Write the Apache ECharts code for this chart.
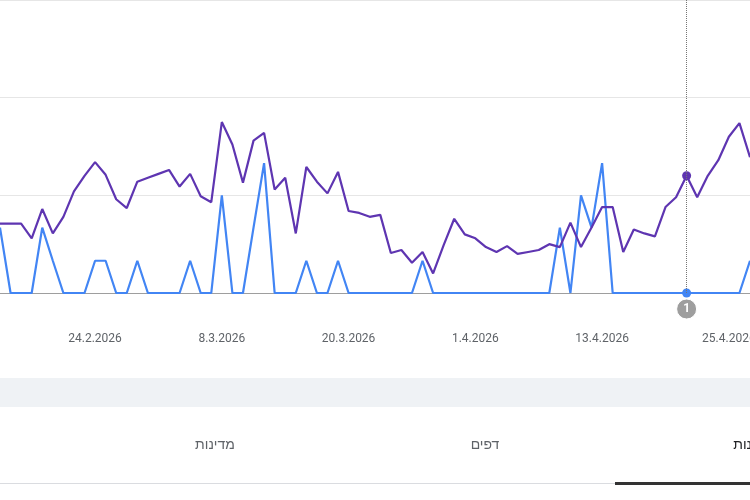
<!DOCTYPE html>
<html><head><meta charset="utf-8">
<script src="https://cdn.jsdelivr.net/npm/echarts@6/dist/echarts.min.js"></script>
<style>html,body{margin:0;padding:0;background:#fff}#chart{width:750px;height:500px}</style>
</head><body><div id="chart"></div>
<script>
var myChart = echarts.init(document.getElementById("chart"));
// dates 15.2.2026 - 27.4.2026
var dates = [];
var d = new Date(2026, 1, 15);
for (var i = 0; i < 72; i++) {
    dates.push(d.getDate() + "." + (d.getMonth() + 1) + "." + d.getFullYear());
    d.setDate(d.getDate() + 1);
}
var impressions = [
    0.71, 0.71, 0.71, 0.56, 0.86, 0.61, 0.78, 1.04, 1.20, 1.34, 1.21, 0.96, 0.87, 1.14, 1.18, 1.22,
    1.26, 1.09, 1.22, 0.99, 0.93, 1.75, 1.52, 1.13, 1.56, 1.64, 1.06, 1.18, 0.61, 1.29, 1.14, 1.02,
    1.24, 0.84, 0.82, 0.78, 0.80, 0.41, 0.44, 0.31, 0.42, 0.20, 0.49, 0.76, 0.60, 0.56, 0.47, 0.42,
    0.48, 0.40, 0.42, 0.44, 0.50, 0.47, 0.72, 0.47, 0.67, 0.88, 0.88, 0.42, 0.65, 0.61, 0.58, 0.88,
    0.98, 1.20, 0.98, 1.20, 1.36, 1.60, 1.74, 1.39
];
var clicks = [
    0.67, 0, 0, 0, 0.67, 0.33, 0, 0, 0, 0.33, 0.33, 0, 0, 0.33, 0, 0,
    0, 0, 0.33, 0, 0, 1, 0, 0, 0.67, 1.33, 0, 0, 0, 0.33, 0, 0,
    0.33, 0, 0, 0, 0, 0, 0, 0, 0.33, 0, 0, 0, 0, 0, 0, 0,
    0, 0, 0, 0, 0, 0.67, 0, 1, 0.67, 1.33, 0, 0, 0, 0, 0, 0,
    0, 0, 0, 0, 0, 0, 0, 0.33
];
var hover = 65;
function mark(arr, color) {
    return arr.map(function (v, i) {
        if (i !== hover) return v;
        return { value: v, symbol: "circle", symbolSize: 9, itemStyle: { color: color } };
    });
}
var option = {
    animation: false,
    grid: { left: 0, right: 0, top: 0, height: 293, containLabel: false, outerBoundsMode: "none" },
    xAxis: {
        type: "category",
        data: dates,
        boundaryGap: false,
        axisTick: { show: false },
        axisLine: { lineStyle: { color: "#9e9e9e" } },
        axisLabel: {
            color: "#5f6368",
            fontSize: 12,
            fontFamily: "Roboto",
            margin: 40,
            hideOverlap: false,
            interval: function (i) { return (i - 9) % 12 === 0; }
        }
    },
    yAxis: {
        type: "value",
        min: 0,
        max: 3,
        interval: 1,
        axisLabel: { show: false },
        splitLine: { lineStyle: { color: "#e6e6e6" } }
    },
    series: [
        {
            name: "חשיפות",
            type: "line",
            data: mark(impressions, "#5e35b1"),
            showSymbol: true,
            symbol: "none",
            lineStyle: { color: "#5e35b1", width: 2.2 },
            itemStyle: { color: "#5e35b1" },
            z: 3
        },
        {
            name: "קליקים",
            type: "line",
            data: mark(clicks, "#4285f4"),
            showSymbol: true,
            symbol: "none",
            lineStyle: { color: "#4285f4", width: 2.2 },
            itemStyle: { color: "#4285f4" },
            z: 2,
            markLine: {
                silent: true,
                symbol: "none",
                label: { show: false },
                lineStyle: { color: "#757575", type: "dotted", width: 1 },
                data: [{ xAxis: hover }]
            },
            markPoint: {
                silent: true,
                data: [{
                    coord: [hover, 0],
                    symbol: "circle",
                    symbolSize: 20,
                    symbolOffset: [0, 16],
                    itemStyle: { color: "#9e9e9e", borderColor: "#fff", borderWidth: 1 },
                    label: { show: true, formatter: "1", color: "#fff", fontSize: 12, fontWeight: "bold", fontFamily: "Roboto" }
                }]
            }
        }
    ],
    graphic: [
        { type: "rect", shape: { x: 0, y: 378, width: 750, height: 29 }, style: { fill: "#eff2f5" } },
        { type: "rect", shape: { x: 0, y: 483, width: 750, height: 1 }, style: { fill: "#dadce0" } },
        { type: "rect", shape: { x: 615, y: 482, width: 135, height: 3 }, style: { fill: "#333333" } },
        { type: "text", x: 215, y: 445, style: { text: "מדינות", fill: "#5f6368", font: "14px 'Noto Sans', sans-serif", align: "center", verticalAlign: "middle" } },
        { type: "text", x: 485, y: 445, style: { text: "דפים", fill: "#5f6368", font: "14px 'Noto Sans', sans-serif", align: "center", verticalAlign: "middle" } },
        { type: "text", x: 752, y: 445, style: { text: "נות", fill: "#202124", font: "14px 'Noto Sans', sans-serif", align: "right", verticalAlign: "middle" } }
    ]
};
myChart.setOption(option);
window.addEventListener("resize", function () {
    myChart.resize();
});
</script>
</body></html>
